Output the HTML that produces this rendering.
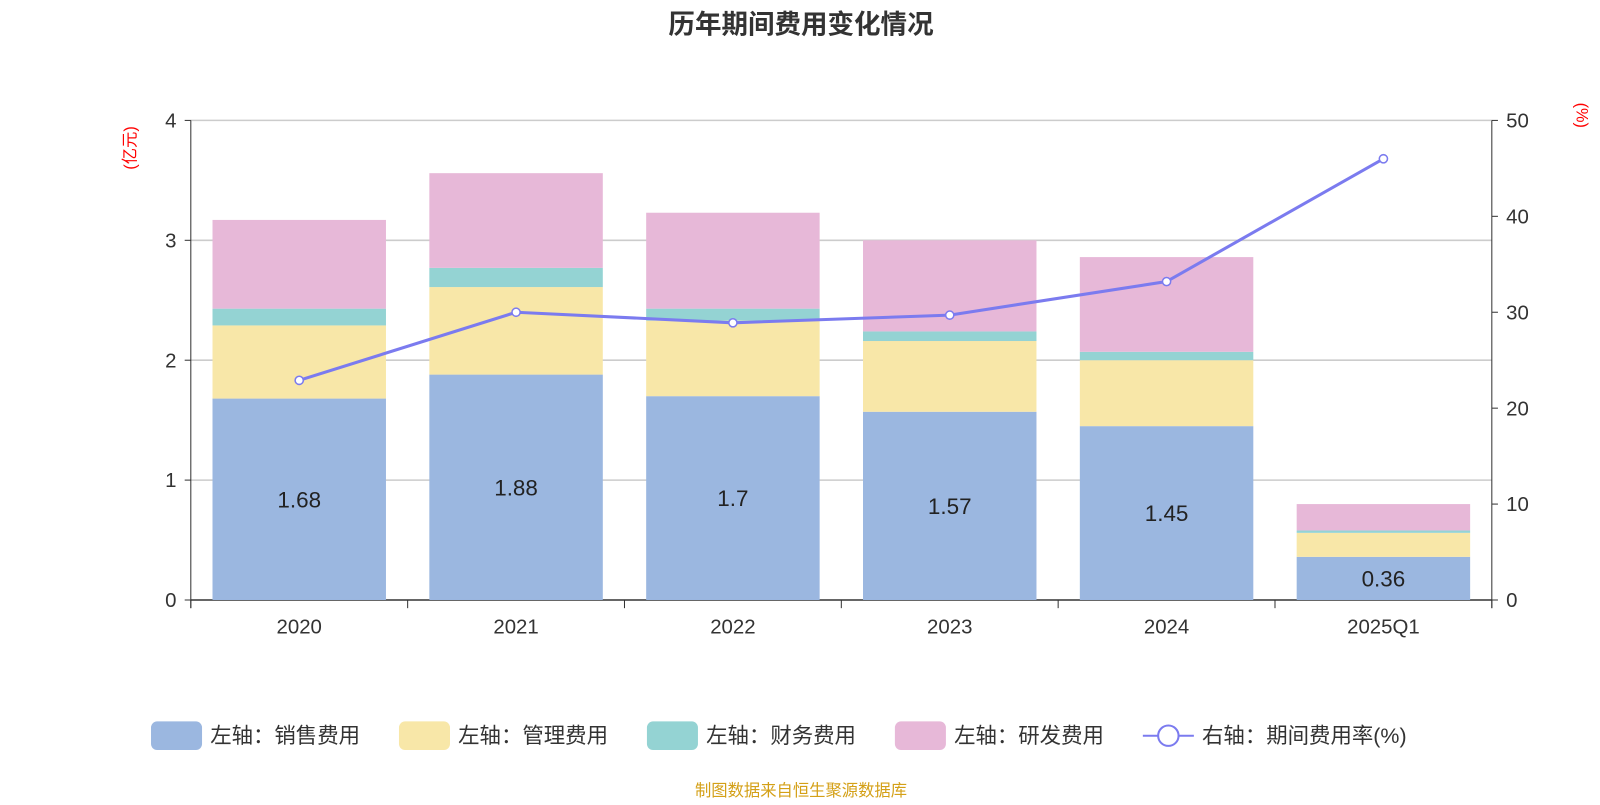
<!DOCTYPE html>
<html><head><meta charset="utf-8">
<style>
body{margin:0;background:#fff;font-family:"Liberation Sans","Noto Sans CJK SC",sans-serif;}
svg text{font-family:"Liberation Sans","Noto Sans CJK SC",sans-serif;}
</style></head>
<body>
<svg id="chart" width="1600" height="800" xmlns="http://www.w3.org/2000/svg">
<g transform="scale(1.0204)">
<text x="785" y="33" text-anchor="middle" font-size="26" font-weight="bold" fill="#333">历年期间费用变化情况</text>
<text transform="translate(133,145) rotate(-90)" text-anchor="middle" font-size="16" fill="#f00">(亿元)</text>
<text transform="translate(1545,113) rotate(90)" text-anchor="middle" font-size="16" fill="#f00">(%)</text>
<g id="grid"></g><g id="bars"></g><g id="axes"></g><g id="line"></g>
<g id="legend"></g>
<text x="785" y="780" text-anchor="middle" font-size="16" fill="#d4a017">制图数据来自恒生聚源数据库</text>
</g>
</svg>
<script>
const categories=["2020","2021","2022","2023","2024","2025Q1"];
const sales=[1.68,1.88,1.70,1.57,1.45,0.36];
const mgmt=[0.61,0.73,0.63,0.59,0.55,0.20];
const fin=[0.14,0.16,0.10,0.08,0.07,0.02];
const rnd=[0.74,0.79,0.80,0.76,0.79,0.22];
const rate=[22.9,30.0,28.9,29.7,33.2,46.0];
const leftTicks=[0,1,2,3,4];
const rightTicks=[0,10,20,30,40,50];
const NS="http://www.w3.org/2000/svg";
const X0=187,X1=1462,Y0=588,Y1=118;
const band=(X1-X0)/categories.length;
const xc=i=>X0+band*(i+0.5);
const yL=v=>Y0-(v/4)*(Y0-Y1);
const yR=v=>Y0-(v/50)*(Y0-Y1);
function mk(tag,attrs,parent,txt){const e=document.createElementNS(NS,tag);for(const k in attrs)e.setAttribute(k,attrs[k]);if(txt!==undefined)e.textContent=txt;document.getElementById(parent).appendChild(e);return e;}
leftTicks.forEach(t=>{
 const g=mk('line',{x1:X0,x2:X1,y1:yL(t),y2:yL(t),stroke:t==0?'#333':'#ccc','stroke-width':1.5},'grid');
 
 
 const l=mk('text',{x:X0-14,y:yL(t)+7,'text-anchor':'end','font-size':20,fill:'#333'},'axes',t);
 
 
 mk('line',{x1:X0-6,x2:X0,y1:yL(t),y2:yL(t),stroke:'#333'},'axes');
});
rightTicks.forEach(t=>{
 const l=mk('text',{x:X1+14,y:yR(t)+7,'font-size':20,fill:'#333'},'axes',t);
 
 
 mk('line',{x1:X1,x2:X1+6,y1:yR(t),y2:yR(t),stroke:'#333'},'axes');
});
mk('line',{x1:X0,x2:X0,y1:Y1,y2:Y0+8,stroke:'#333'},'axes');
mk('line',{x1:X1,x2:X1,y1:Y1,y2:Y0+8,stroke:'#333'},'axes');
for(let i=0;i<=categories.length;i++)mk('line',{x1:X0+band*i,x2:X0+band*i,y1:Y0,y2:Y0+8,stroke:'#333'},'axes');
const series=[[sales,'#9bb7e0','sales'],[mgmt,'#f8e7a8','mgmt'],[fin,'#94d3d3','finance'],[rnd,'#e7b8d8','rnd']];
categories.forEach((c,i)=>{
 let acc=0;const bw=170;
 series.forEach(([arr,col,nm])=>{
  const r=mk('rect',{x:xc(i)-bw/2,y:yL(acc+arr[i]),width:bw,height:yL(acc)-yL(acc+arr[i]),fill:col},'bars');
  
  
  acc+=arr[i];
 });
 const v=mk('text',{x:xc(i),y:(yL(0)+yL(sales[i]))/2+8,'text-anchor':'middle','font-size':22,fill:'#222'},'bars',sales[i]);
 
 
 const l=mk('text',{x:xc(i),y:Y0+33,'text-anchor':'middle','font-size':20,fill:'#333'},'axes',c);
 
 
});
const pl=mk('polyline',{points:rate.map((r,i)=>xc(i)+','+yR(r)).join(' '),fill:'none',stroke:'#7b7bef','stroke-width':3},'line');


rate.forEach((r,i)=>{
 const p=mk('circle',{cx:xc(i),cy:yR(r),r:4,fill:'#fff',stroke:'#7b7bef','stroke-width':1.5},'line');
 
 
});
const leg=[['#9bb7e0','左轴：销售费用',148],['#f8e7a8','左轴：管理费用',391],['#94d3d3','左轴：财务费用',634],['#e7b8d8','左轴：研发费用',877]];
leg.forEach(([col,t,x])=>{
 const r=mk('rect',{x:x,y:707,width:50,height:28,rx:6,fill:col},'legend');
 
 
 const tx=mk('text',{x:x+58,y:728,'font-size':21,fill:'#333'},'legend',t);
 
 
});
mk('line',{x1:1120,x2:1170,y1:721,y2:721,stroke:'#7b7bef','stroke-width':2},'legend');
mk('circle',{cx:1145,cy:721,r:10,fill:'#fff',stroke:'#7b7bef','stroke-width':2},'legend');
const lt=mk('text',{x:1178,y:728,'font-size':21,fill:'#333'},'legend','右轴：期间费用率(%)');


</script>
</body></html>
